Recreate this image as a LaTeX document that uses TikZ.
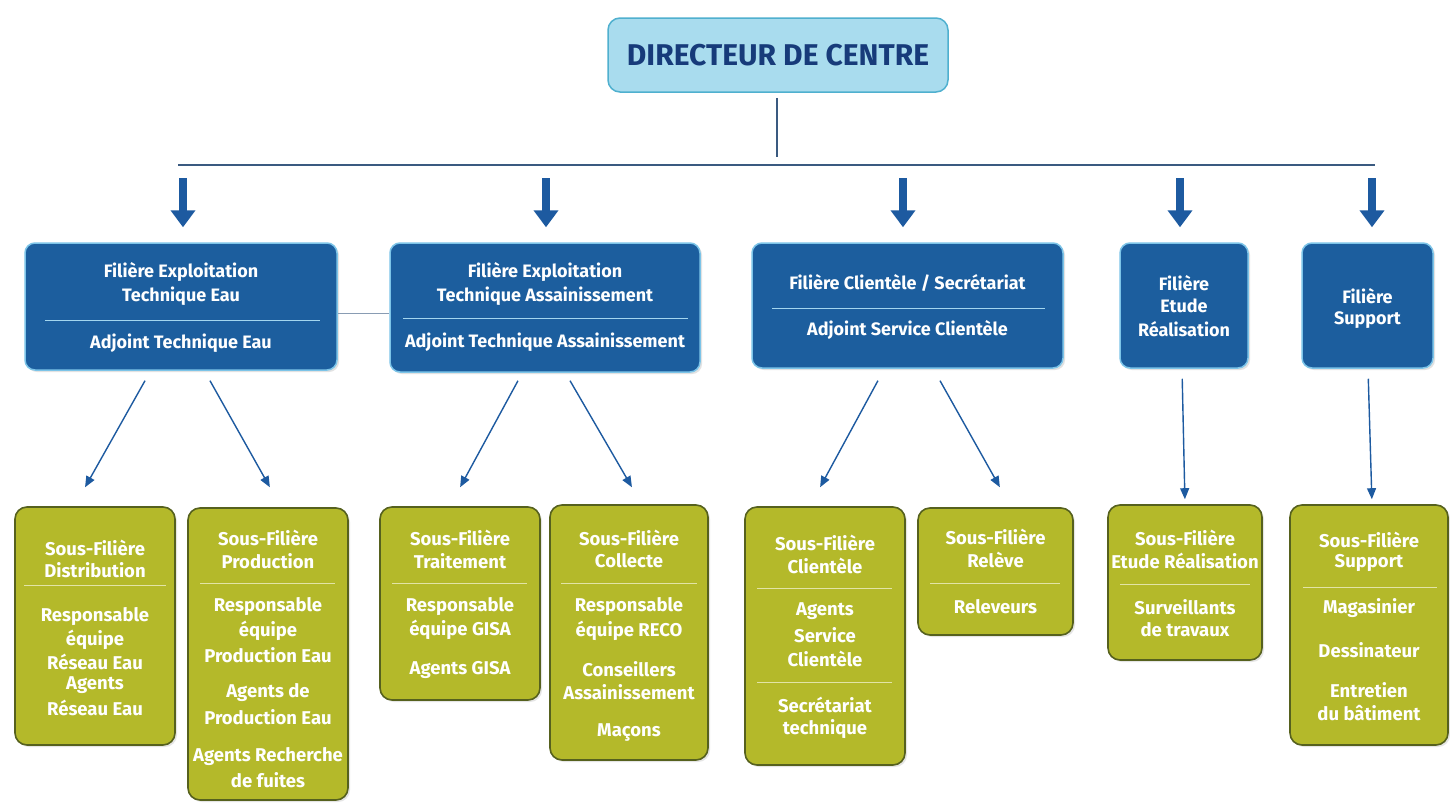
\documentclass[tikz,border=0pt]{standalone}
\usepackage{fontspec}
\setmainfont{Fira Sans}
\usetikzlibrary{arrows.meta,shadows}
\definecolor{navy}{HTML}{173B7A}
\definecolor{topfill}{HTML}{A9DCEE}
\definecolor{topdraw}{HTML}{4FB0CF}
\definecolor{bluefill}{HTML}{1C5E9E}
\definecolor{blueedge}{HTML}{7CC4E8}
\definecolor{arrowblue}{HTML}{1D5AA0}
\definecolor{linecol}{HTML}{3A5A80}
\definecolor{greenfill}{HTML}{B4B92A}
\definecolor{greenedge}{HTML}{56611E}
\definecolor{greensep}{HTML}{E2E4A6}
\newcommand\myTopFont{\fontsize{30}{33}\selectfont\bfseries}
\newcommand\myBlueFont{\fontsize{18}{21}\selectfont\bfseries}
\newcommand\myGreenFont{\fontsize{18.5}{21}\selectfont\bfseries}
\tikzset{
  topbox/.style={draw=topdraw, fill=topfill, line width=1.5pt, rounded corners=12pt, inner sep=0pt, text=navy, font=\myTopFont},
  bluebox/.style={draw=blueedge, fill=bluefill, line width=1.5pt, rounded corners=10pt, inner sep=0pt,
    drop shadow={shadow xshift=2pt, shadow yshift=-2pt, fill=gray!45}},
  greenbox/.style={draw=greenedge, fill=greenfill, line width=1.6pt, rounded corners=12pt, inner sep=0pt,
    drop shadow={shadow xshift=2pt, shadow yshift=-2pt, fill=gray!40}},
  bt/.style={text=white, font=\myBlueFont, inner sep=0pt},
  gt/.style={text=white, font=\myGreenFont, inner sep=0pt},
  bsep/.style={draw=blueedge!70!white, line width=0.8pt},
  gsep/.style={draw=greensep, line width=0.8pt},
  bigarrow/.style={draw=arrowblue, line width=7.5pt, -{Triangle[width=24pt,length=17pt]}, shorten <=13pt, shorten >=15pt},
  thinarrow/.style={draw=arrowblue, line width=1.4pt, -{Triangle[width=9pt,length=11pt]}},
  hline/.style={draw=linecol, line width=1.8pt},
}
\begin{document}
\begin{tikzpicture}[x=1pt,y=-1pt]
\useasboundingbox (0,0) rectangle (1450,803);
\fill[white] (0,0) rectangle (1450,803);

% director
\node[topbox, minimum width=340pt, minimum height=74pt] (dir) at (778,55) {DIRECTEUR DE CENTRE};
\coordinate (hL) at (178,165);
\coordinate (hR) at (1375,165);
\coordinate (hM) at (777,165);
\draw[hline] (hL) -- (hR);
\draw[draw=linecol, line width=1.3pt, shorten <=5pt, shorten >=8pt] (dir.south -| hM) -- (hM);

% blue boxes
\node[bluebox, minimum width=312pt, minimum height=127pt] (b1) at (181,306.5) {};
\node[bluebox, minimum width=310pt, minimum height=129pt] (b2) at (545,307.5) {};
\node[bluebox, minimum width=311pt, minimum height=125pt] (b3) at (907.5,305.5) {};
\node[bluebox, minimum width=128pt, minimum height=125pt] (b4) at (1184,305.5) {};
\node[bluebox, minimum width=131pt, minimum height=125pt] (b5) at (1367.5,305.5) {};

\draw[draw=linecol!60, line width=1pt] (b1.east |- 0,313) -- (b2.west |- 0,313);

\node[bt] (b1a) at (181,272) {Filière Exploitation};
\node[bt] (b1b) at (181,296) {Technique Eau};
\draw[bsep] (45,320) -- (320,320);
\node[bt] (b1c) at (181,343) {Adjoint Technique Eau};

\node[bt] (b2a) at (545,272) {Filière Exploitation};
\node[bt] (b2b) at (545,296) {Technique Assainissement};
\draw[bsep] (403,318) -- (688,318);
\node[bt] (b2c) at (545,342) {Adjoint Technique Assainissement};

\node[bt] (b3a) at (907.5,283) {Filière Clientèle / Secrétariat};
\draw[bsep] (772,308) -- (1045,308);
\node[bt] (b3b) at (907.5,330) {Adjoint Service Clientèle};

\node[bt] (b4a) at (1184,283) {Filière};
\node[bt] (b4b) at (1184,306) {Etude};
\node[bt] (b4c) at (1184,329) {Réalisation};

\node[bt] (b5a) at (1367.5,296) {Filière};
\node[bt] (b5b) at (1367.5,320) {Support};

% big arrows
\coordinate (h1) at (183,165);
\coordinate (h2) at (546,165);
\coordinate (h3) at (903,165);
\coordinate (h4) at (1180,165);
\coordinate (h5) at (1372,165);
\draw[bigarrow] (h1) -- (h1 |- b1.north);
\draw[bigarrow] (h2) -- (h2 |- b2.north);
\draw[bigarrow] (h3) -- (h3 |- b3.north);
\draw[bigarrow] (h4) -- (h4 |- b4.north);
\draw[bigarrow] (h5) -- (h5 |- b5.north);

% green boxes
\node[greenbox, minimum width=160pt, minimum height=238pt] (g1) at (95,626) {};
\node[greenbox, minimum width=160pt, minimum height=292pt] (g2) at (268,654) {};
\node[greenbox, minimum width=160pt, minimum height=193pt] (g3) at (460,603.5) {};
\node[greenbox, minimum width=158pt, minimum height=255pt] (g4) at (629,632.5) {};
\node[greenbox, minimum width=160pt, minimum height=258pt] (g5) at (825,636) {};
\node[greenbox, minimum width=155pt, minimum height=127pt] (g6) at (995.5,571.5) {};
\node[greenbox, minimum width=154pt, minimum height=155pt] (g7) at (1185,582.5) {};
\node[greenbox, minimum width=158pt, minimum height=240pt] (g8) at (1369,625) {};

% thin arrows
\draw[thinarrow, shorten <=11.4pt, shorten >=21.7pt] ([xshift=-30.4pt]b1.south) -- ([xshift=-20.6pt]g1.north);
\draw[thinarrow, shorten <=11.4pt, shorten >=22.9pt] ([xshift=23.4pt]b1.south) -- ([xshift=13.1pt]g2.north);
\draw[thinarrow, shorten <=9.1pt, shorten >=21.6pt] ([xshift=-22.7pt]b2.south) -- ([xshift=-10.2pt]g3.north);
\draw[thinarrow, shorten <=9.2pt, shorten >=19.6pt] ([xshift=20.4pt]b2.south) -- ([xshift=12.8pt]g4.north);
\draw[thinarrow, shorten <=13.6pt, shorten >=21.6pt] ([xshift=-23.1pt]b3.south) -- ([xshift=-15.2pt]g5.north);
\draw[thinarrow, shorten <=13.7pt, shorten >=22.9pt] ([xshift=25.8pt]b3.south) -- ([xshift=15.6pt]g6.north);
\draw[thinarrow, shorten <=10pt, shorten >=5pt] ([xshift=-2pt]b4.south) -- (g7.north);
\draw[thinarrow, shorten <=10pt, shorten >=5pt] ([xshift=0.5pt]b5.south) -- ([xshift=3pt]g8.north);

% green texts
\node[gt] (g1a) at (95,548) {Sous-Filière};
\node[gt] (g1b) at (95,570) {Distribution};
\draw[gsep] (24,585) -- (166,585);
\node[gt] (g1c) at (95,617) {Responsable};
\node[gt] (g1d) at (95,640) {équipe};
\node[gt] (g1e) at (95,662) {Réseau Eau};
\node[gt] (g1f) at (95,685) {Agents};
\node[gt] (g1g) at (95,708) {Réseau Eau};

\node[gt] (g2a) at (268,538) {Sous-Filière};
\node[gt] (g2b) at (268,561) {Production};
\draw[gsep] (200,583) -- (335,583);
\node[gt] (g2c) at (268,607) {Responsable};
\node[gt] (g2d) at (268,631) {équipe};
\node[gt] (g2e) at (268,655) {Production Eau};
\node[gt] (g2f) at (268,693) {Agents de};
\node[gt] (g2g) at (268,717) {Production Eau};
\node[gt] (g2h) at (268,757) {Agents Recherche};
\node[gt] (g2i) at (268,780) {de fuites};

\node[gt] (g3a) at (460,538) {Sous-Filière};
\node[gt] (g3b) at (460,561) {Traitement};
\draw[gsep] (392,583) -- (527,583);
\node[gt] (g3c) at (460,607) {Responsable};
\node[gt] (g3d) at (460,630) {équipe GISA};
\node[gt] (g3e) at (460,670) {Agents GISA};

\node[gt] (g4a) at (629,538) {Sous-Filière};
\node[gt] (g4b) at (629,561) {Collecte};
\draw[gsep] (561,583) -- (697,583);
\node[gt] (g4c) at (629,607) {Responsable};
\node[gt] (g4d) at (629,631) {équipe RECO};
\node[gt] (g4e) at (629,669) {Conseillers};
\node[gt] (g4f) at (629,692) {Assainissement};
\node[gt] (g4g) at (629,733) {Maçons};

\node[gt] (g5a) at (825,543) {Sous-Filière};
\node[gt] (g5b) at (825,566) {Clientèle};
\draw[gsep] (757,588) -- (892,588);
\node[gt] (g5c) at (825,611) {Agents};
\node[gt] (g5d) at (825,635) {Service};
\node[gt] (g5e) at (825,659) {Clientèle};
\draw[gsep] (757,682) -- (892,682);
\node[gt] (g5f) at (825,705) {Secrétariat};
\node[gt] (g5g) at (825,729) {technique};

\node[gt] (g6a) at (995.5,537) {Sous-Filière};
\node[gt] (g6b) at (995.5,560) {Relève};
\draw[gsep] (930,583) -- (1060,583);
\node[gt] (g6c) at (995.5,607) {Releveurs};

\node[gt] (g7a) at (1185,538) {Sous-Filière};
\node[gt] (g7b) at (1185,561) {Etude Réalisation};
\draw[gsep] (1120,584) -- (1250,584);
\node[gt] (g7c) at (1185,607) {Surveillants};
\node[gt] (g7d) at (1185,630) {de travaux};

\node[gt] (g8a) at (1369,540) {Sous-Filière};
\node[gt] (g8b) at (1369,563) {Support};
\draw[gsep] (1303,587) -- (1437,587);
\node[gt] (g8c) at (1369,608) {Magasinier};
\node[gt] (g8d) at (1369,650) {Dessinateur};
\node[gt] (g8e) at (1369,690) {Entretien};
\node[gt] (g8f) at (1369,713) {du bâtiment};
\end{tikzpicture}
\end{document}
